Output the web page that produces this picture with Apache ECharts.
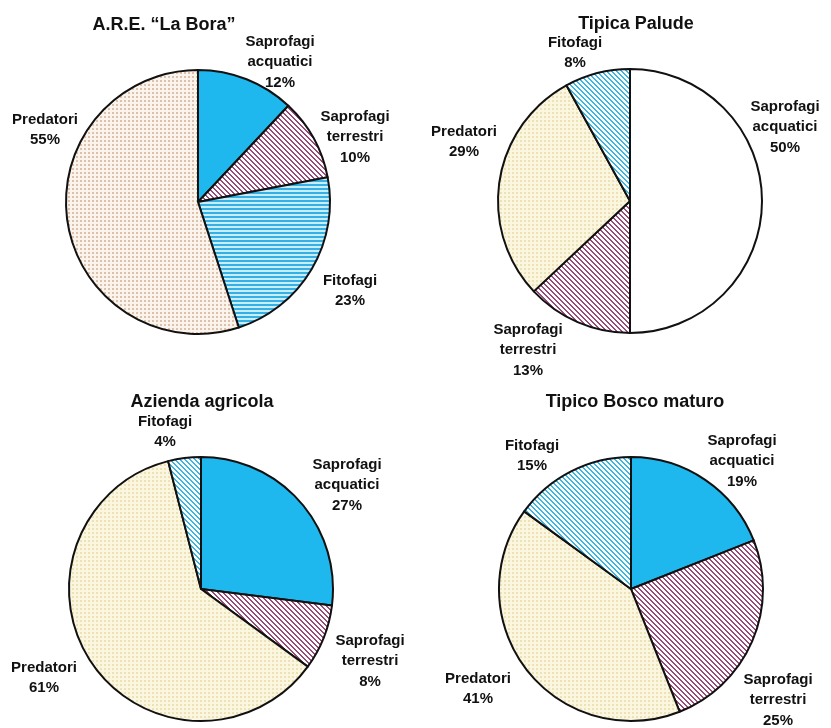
<!DOCTYPE html>
<html>
<head>
<meta charset="utf-8">
<script src="https://cdn.jsdelivr.net/npm/echarts@6/dist/echarts.min.js"></script>
<style>
  html, body { margin: 0; padding: 0; background: #fff; }
  #chart { width: 831px; height: 728px; }
</style>
</head>
<body>
<div id="chart"></div>
<script>
// Feeding-group shares (%) in four habitats
const titles = ['A.R.E. \u201cLa Bora\u201d', 'Tipica Palude', 'Azienda agricola', 'Tipico Bosco maturo'];

const boraNames   = ['Saprofagi\nacquatici', 'Saprofagi\nterrestri', 'Fitofagi', 'Predatori'];
const boraValues  = [12, 10, 23, 55];

const paludeNames  = ['Saprofagi\nacquatici', 'Saprofagi\nterrestri', 'Predatori', 'Fitofagi'];
const paludeValues = [50, 13, 29, 8];

const aziendaNames  = ['Saprofagi\nacquatici', 'Saprofagi\nterrestri', 'Predatori', 'Fitofagi'];
const aziendaValues = [27, 8, 61, 4];

const boscoNames  = ['Saprofagi\nacquatici', 'Saprofagi\nterrestri', 'Predatori', 'Fitofagi'];
const boscoValues = [19, 25, 41, 15];

// ---- fill patterns ----
function makeTile(w, h, painter) {
  const c = document.createElement('canvas');
  c.width = w; c.height = h;
  const ctx = c.getContext('2d');
  const img = ctx.createImageData(w, h);
  for (let y = 0; y < h; y++) {
    for (let x = 0; x < w; x++) {
      const col = painter(x, y);
      const i = (y * w + x) * 4;
      img.data[i] = col[0]; img.data[i + 1] = col[1]; img.data[i + 2] = col[2]; img.data[i + 3] = 255;
    }
  }
  ctx.putImageData(img, 0, 0);
  return { image: c, repeat: 'repeat' };
}
function hex(h) { return [parseInt(h.slice(1, 3), 16), parseInt(h.slice(3, 5), 16), parseInt(h.slice(5, 7), 16)]; }

const diag = (fg, bg) => makeTile(5, 5, (x, y) => (((x - y) % 5 + 5) % 5 < 2 ? hex(fg) : hex(bg)));
const maroonStripes = diag('#9A4A7A', '#FFFFFF');
const blueStripes = diag('#3AB6E4', '#FFFFFF');
const hStripes = makeTile(4, 4, (x, y) => (y < 2 ? hex('#34B0E4') : hex('#C9EEFB')));
const dots = (fg, bg) => makeTile(4, 4, (x, y) => (x < 2 && y < 2 ? hex(fg) : hex(bg)));
const pinkDots = dots('#DCC2AD', '#FBF4EC');
const creamDots = dots('#EDE2B6', '#FBF6DF');
const solidBlue = '#1EB8EE';

const fills = [
  [solidBlue, maroonStripes, hStripes, pinkDots],
  ['#FFFFFF', maroonStripes, creamDots, blueStripes],
  [solidBlue, maroonStripes, creamDots, blueStripes],
  [solidBlue, maroonStripes, creamDots, blueStripes]
];

// ---- layout ----
const centers = [[198, 202], [630, 201], [201, 589], [631, 589]];
const radius = 132;
const titlePos = [[159, 20], [631, 19], [197, 397], [630, 397]];
// label anchor offsets from each pie centre
const labelOffsets = [
  [[82, -140], [157, -65], [152, 89], [-153, -72]],
  [[155, -74], [-102, 149], [-166, -59], [-55, -148]],
  [[146, -104], [169, 72], [-157, 89], [-36, -157]],
  [[111, -128], [147, 111], [-153, 100], [-99, -133]]
];

const groups = [
  [boraNames, boraValues],
  [paludeNames, paludeValues],
  [aziendaNames, aziendaValues],
  [boscoNames, boscoValues]
];

const font = "'Liberation Sans', Arial, sans-serif";

const series = groups.map((g, si) => ({
  type: 'pie',
  center: centers[si],
  radius: radius,
  startAngle: 90,
  clockwise: true,
  animation: false,
  silent: true,
  avoidLabelOverlap: false,
  data: g[0].map((n, i) => ({
    name: n,
    value: g[1][i],
    itemStyle: { color: fills[si][i] }
  })),
  itemStyle: { borderColor: '#111', borderWidth: 2 },
  label: {
    show: true,
    position: 'outside',
    formatter: p => p.name + '\n' + p.value + '%',
    fontFamily: font,
    fontWeight: 'bold',
    fontSize: 15,
    lineHeight: 20.5,
    color: '#111',
    align: 'center'
  },
  labelLine: { show: false },
  labelLayout: p => {
    const off = labelOffsets[si][p.dataIndex];
    return {
      x: centers[si][0] + off[0],
      y: centers[si][1] + off[1],
      align: 'center',
      verticalAlign: 'middle'
    };
  }
}));

const chart = echarts.init(document.getElementById('chart'), null, { renderer: 'canvas' });
chart.setOption({
  backgroundColor: '#fff',
  title: titles.map((t, i) => ({
    text: t,
    left: titlePos[i][0],
    top: titlePos[i][1],
    textAlign: 'center',
    textVerticalAlign: 'middle',
    textStyle: { fontFamily: font, fontWeight: 'bold', fontSize: 18, color: '#111' }
  })),
  series: series
});
</script>
</body>
</html>
